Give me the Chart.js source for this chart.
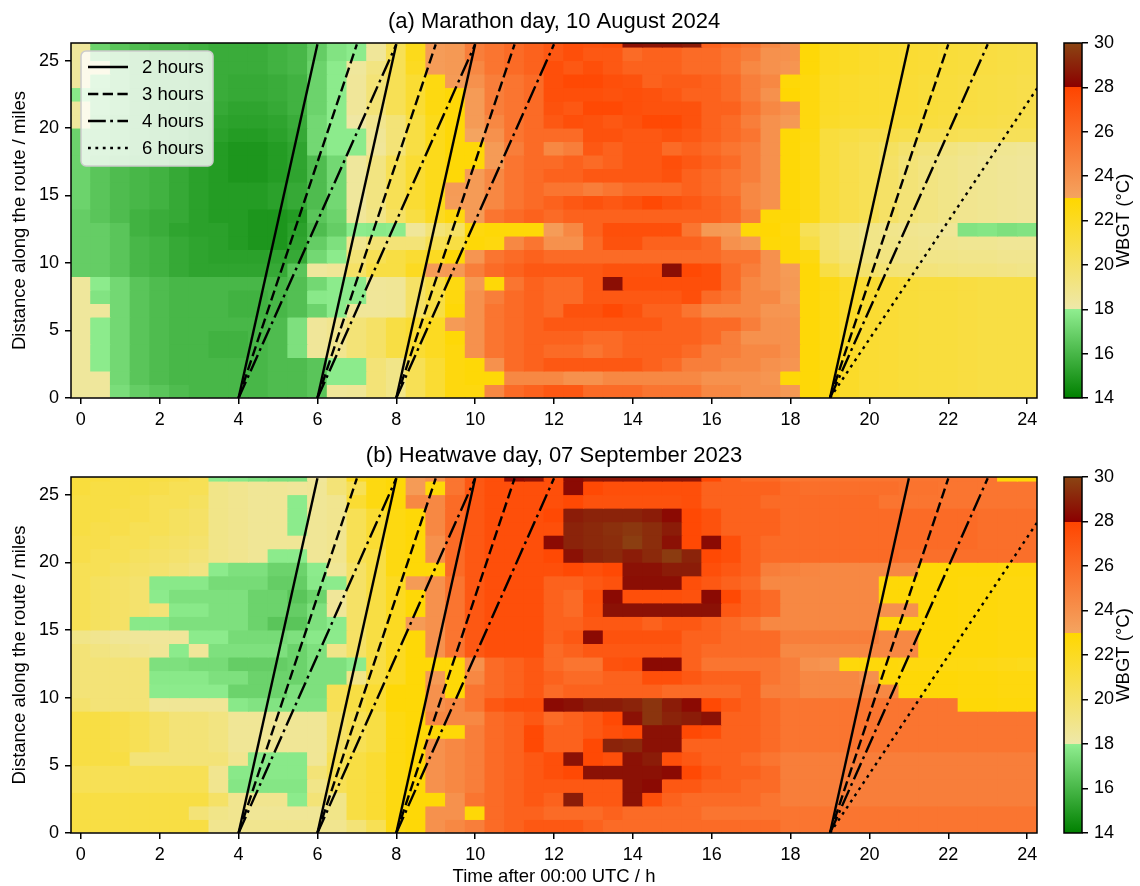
<!DOCTYPE html>
<html>
<head>
<meta charset="utf-8">
<script src="https://cdn.jsdelivr.net/npm/chart.js@4.4.1/dist/chart.umd.min.js"></script>
<style>
  html, body { margin: 0; padding: 0; background: #fff; }
  #fig { position: relative; width: 1140px; height: 886px; overflow: hidden; }
  #fig canvas { position: absolute; }
</style>
</head>
<body>
<div id="fig">
  <canvas id="heatA" width="1140" height="443" style="left:0;top:0"></canvas>
  <canvas id="barA" width="100" height="443" style="left:1040px;top:0"></canvas>
  <canvas id="heatB" width="1140" height="452" style="left:0;top:434px"></canvas>
  <canvas id="barB" width="100" height="452" style="left:1040px;top:434px"></canvas>
</div>
<script>
// WBGT along the route, two days: cells are 0.5 h x 1 mile
(function () {
  "use strict";

  // time of each column centre (h after 00:00 UTC)
  var timeHours = [0, 0.5, 1, 1.5, 2, 2.5, 3, 3.5, 4, 4.5, 5, 5.5, 6, 6.5, 7, 7.5, 8, 8.5, 9, 9.5,
    10, 10.5, 11, 11.5, 12, 12.5, 13, 13.5, 14, 14.5, 15, 15.5, 16, 16.5, 17, 17.5, 18, 18.5, 19, 19.5,
    20, 20.5, 21, 21.5, 22, 22.5, 23, 23.5, 24];
  // row edges along the route (miles)
  var distEdges = [0, 1, 2, 3, 4, 5, 6, 7, 8, 9, 10, 11, 12, 13, 14, 15, 16, 17, 18, 19, 20,
    21, 22, 23, 24, 25, 26, 26.3];

  // start times of the runners and finishing times (h)
  var startTimes = [4, 6, 8, 19];
  var paceSets = [[2, 3, 4], [2, 3, 4], [2, 3, 4], [2, 3, 4, 6]];
  var raceMiles = 26.2;
  var paceHours = [2, 3, 4, 6];
  var paceLabels = ["2 hours", "3 hours", "4 hours", "6 hours"];

  // colour scale
  var cbarMin = 14, cbarMax = 30;
  var cmapValues = [14, 18, 18, 23, 23, 28, 28, 30];
  var cmapColors = [[0, 128, 0], [144, 238, 144], [238, 232, 170], [255, 215, 0],
    [244, 164, 96], [255, 69, 0], [139, 0, 0], [139, 69, 19]];

  // (a) marathon day, 10 August 2024 - rows from 0 mile upward, columns 0..24 h
  var marathonWbgt = [
    [18.4,18.4,17.4,16.8,16.5,16.2,16.0,16.0,16.0,16.0,16.2,16.2, 16.5,18.5,18.6,19.5,19.0,20.5,21.5,22.6,22.6,24.5,26.0,26.5, 27.0,27.0,26.0,26.0,26.0,25.5,25.5,25.5,24.5,24.5,24.0,24.0,23.6, 22.8,22.4,21.8,21.5,21.4,21.3,21.2,21.2,21.1,21.0,21.0,21.0],
    [18.4,18.4,17.2,16.5,16.2,16.0,16.0,16.0,16.0,16.0,16.2,16.2, 16.5,17.9,17.9,19.5,19.0,20.5,21.5,22.6,22.8,22.8,24.5,24.5, 24.5,24.0,24.0,24.5,24.5,24.5,24.5,24.5,24.0,24.0,24.0,23.8,22.8, 22.8,22.4,21.8,21.5,21.4,21.3,21.2,21.2,21.1,21.0,21.0,21.0],
    [18.4,17.9,17.2,16.5,16.2,16.0,16.0,16.0,16.0,16.0,16.2,16.2, 16.5,17.9,17.9,19.5,19.0,20.5,21.5,22.6,22.8,24.0,26.0,26.5, 27.0,27.0,27.0,27.0,27.0,26.5,26.0,25.0,25.0,24.5,24.5,24.0,23.8, 22.8,22.4,21.8,21.5,21.4,21.3,21.2,21.2,21.1,21.0,21.0,21.0],
    [18.4,17.9,17.2,16.5,16.2,16.0,16.0,15.8,15.8,16.0,16.2,17.5, 18.5,18.8,19.5,20.0,21.0,21.5,22.0,22.6,24.0,25.5,26.0,26.5, 26.0,26.0,25.5,26.0,26.5,26.5,26.5,26.0,25.0,25.0,24.5,24.5,24.0, 22.8,22.4,21.8,21.5,21.4,21.3,21.2,21.2,21.1,21.0,21.0,21.0],
    [18.4,17.9,17.2,16.5,16.2,16.0,16.0,15.8,15.8,16.0,16.2,17.5, 18.5,18.8,19.5,20.0,21.0,21.5,22.0,22.8,24.0,25.5,26.0,26.5, 26.5,26.5,26.0,26.0,26.5,26.5,26.5,26.5,26.0,25.0,24.0,24.0,24.0, 22.8,22.4,21.8,21.5,21.4,21.3,21.2,21.2,21.1,21.0,21.0,21.0],
    [18.4,17.9,17.2,16.5,16.2,16.0,16.0,16.0,16.0,16.0,16.2,17.5, 18.5,18.8,19.5,20.0,21.0,21.5,22.0,23.5,24.0,25.5,26.0,26.5, 27.0,27.0,27.0,27.0,27.0,27.0,26.5,26.5,26.0,26.0,25.0,24.0,24.0, 22.8,22.4,21.8,21.5,21.4,21.3,21.2,21.2,21.1,21.0,21.0,21.0],
    [18.4,18.4,17.2,16.5,16.2,16.0,16.0,16.0,15.8,15.8,16.0,16.3, 17.0,17.9,18.5,18.5,18.6,20.0,21.0,22.8,24.0,25.5,26.0,26.5, 26.0,27.3,27.3,27.8,27.3,26.5,26.5,25.5,24.5,24.5,24.5,23.8,23.8, 22.8,22.4,21.8,21.5,21.4,21.3,21.2,21.2,21.1,21.0,21.0,21.0],
    [18.4,17.6,17.2,16.5,16.2,16.0,16.0,16.0,15.8,15.8,16.0,16.3, 17.8,17.9,17.9,18.5,18.6,20.0,21.0,22.6,24.0,25.0,26.0,26.5, 26.0,26.0,27.0,27.0,27.0,27.0,27.0,27.5,26.0,25.5,24.5,24.5,23.5, 22.8,22.4,21.8,21.5,21.4,21.3,21.2,21.2,21.1,21.0,21.0,21.0],
    [18.4,17.9,17.2,16.5,16.2,16.0,16.0,16.0,16.0,16.0,16.0,16.3, 17.2,17.9,17.9,18.5,18.6,20.0,21.0,22.5,23.6,22.8,25.5,26.5, 26.0,26.0,27.0,28.4,27.5,27.5,27.5,27.5,27.5,26.0,24.5,24.0,23.6, 22.8,22.4,21.8,21.5,21.4,21.3,21.2,21.2,21.1,21.0,21.0,21.0],
    [16.8,16.8,16.5,16.0,15.8,15.5,15.3,15.3,15.3,15.3,15.5,16.5, 18.4,18.6,20.0,21.0,21.0,22.0,23.5,23.6,25.0,26.0,26.5,27.0, 27.0,27.0,27.0,27.3,27.3,27.3,28.4,27.8,27.5,26.0,25.0,24.0,23.5, 22.8,21.0,20.0,19.8,19.6,19.5,19.4,19.3,19.2,19.2,19.1,19.0],
    [16.8,16.8,16.5,16.0,15.8,15.5,15.3,15.2,15.2,15.2,15.3,15.5, 17.2,17.9,19.5,20.5,21.0,21.5,22.0,22.8,23.8,25.5,26.0,26.5, 26.0,26.0,26.0,26.0,26.0,26.0,26.0,26.0,26.0,25.5,25.5,24.0,22.8, 22.5,20.0,19.5,19.3,19.2,19.1,19.0,19.0,18.9,18.9,18.8,18.8],
    [16.8,16.8,16.5,16.0,15.8,15.5,15.3,15.2,15.0,14.8,14.8,15.3, 16.8,17.5,18.8,19.5,19.5,19.5,20.5,21.0,22.8,22.6,24.5,25.5, 24.0,24.0,26.0,27.3,27.3,26.5,26.5,26.5,26.0,24.0,23.6,22.8,22.7, 21.0,19.8,19.3,19.0,19.0,18.9,18.8,18.8,18.7,18.7,18.6,18.6],
    [16.8,16.8,16.5,15.8,15.6,15.3,15.2,15.2,15.0,14.8,14.8,15.2, 16.2,16.8,17.9,17.8,17.9,18.5,19.5,20.0,22.6,22.8,22.8,22.8, 23.4,24.5,26.5,27.5,27.5,27.5,27.5,25.5,23.6,23.5,22.8,22.9,22.6, 20.5,19.8,19.3,19.0,18.9,18.8,18.7,18.6,17.6,17.7,17.5,17.6],
    [16.8,16.5,16.2,15.8,15.6,15.5,15.2,15.0,15.0,14.8,14.8,15.0, 16.5,17.0,18.5,19.0,20.0,21.0,22.0,22.6,23.5,25.5,26.0,26.5, 26.0,26.5,26.5,26.5,26.5,26.5,26.5,26.5,26.5,26.0,25.0,22.8,22.8, 22.4,21.2,20.8,20.5,20.0,19.5,19.2,19.0,18.8,18.7,18.6,18.5],
    [17.0,16.5,16.2,16.0,15.8,15.5,15.2,15.0,15.0,15.0,15.2,15.5, 16.2,17.2,18.4,19.2,20.5,21.5,22.2,23.4,23.5,24.5,25.5,26.0, 26.5,27.0,27.3,27.0,27.3,27.8,27.3,27.0,26.5,26.0,24.5,24.0,22.8, 22.4,21.2,20.8,20.5,20.0,19.5,19.2,19.0,18.8,18.7,18.6,18.5],
    [17.0,16.5,16.2,16.0,15.8,15.5,15.2,15.0,15.0,15.0,15.2,15.5, 16.2,17.2,18.4,19.2,20.5,21.5,22.2,23.5,23.5,24.5,25.5,26.0, 25.5,25.5,25.0,25.5,26.0,26.0,26.0,26.5,26.0,25.5,24.5,24.0,22.8, 22.4,21.2,20.8,20.5,20.0,19.5,19.2,19.0,18.8,18.7,18.6,18.5],
    [17.0,16.5,16.2,16.0,15.8,15.5,15.2,15.0,14.8,14.8,15.0,15.3, 16.2,17.2,18.4,19.2,20.5,21.5,22.2,22.8,23.5,24.5,25.5,26.0, 26.5,26.5,27.0,27.0,27.0,27.0,27.3,26.5,26.0,25.5,25.0,24.0,22.8, 22.4,21.2,20.8,20.5,20.0,19.5,19.2,19.0,18.8,18.7,18.6,18.5],
    [17.0,16.5,16.2,16.0,15.8,15.5,15.2,15.0,14.8,14.8,15.0,15.3, 16.2,17.2,18.4,19.2,20.5,21.5,22.2,22.8,22.8,23.5,25.5,26.0, 26.0,26.5,26.0,26.5,27.0,27.0,27.5,27.0,26.5,26.0,25.0,24.0,22.8, 22.4,21.2,20.8,20.5,20.0,19.5,19.2,19.0,18.8,18.7,18.6,18.5],
    [17.0,16.8,16.5,16.2,16.0,15.6,15.3,15.0,14.8,14.8,15.0,15.3, 17.2,17.9,17.9,18.5,19.5,21.0,22.2,22.8,22.8,23.5,25.0,26.0, 24.5,25.0,27.0,26.5,27.0,27.0,26.0,26.5,26.0,25.5,25.0,24.0,22.8, 22.4,21.2,20.8,20.5,20.2,19.8,19.5,19.2,19.0,18.8,18.7,18.6],
    [17.0,16.8,16.5,16.2,16.0,15.8,15.5,15.2,15.0,15.0,15.2,15.5, 17.2,17.9,17.9,18.6,19.5,21.0,22.2,22.8,23.0,24.0,25.5,26.0, 26.0,26.0,27.3,27.3,27.0,27.0,27.3,27.0,26.5,26.0,25.5,24.0,22.8, 22.5,21.2,21.0,20.8,20.8,20.7,20.6,20.6,20.5,20.5,20.4,20.4],
    [18.4,17.0,16.5,16.2,16.0,15.8,15.6,15.3,15.2,15.2,15.3,15.6, 17.2,17.9,18.2,18.8,19.5,21.0,22.2,22.8,23.5,24.5,25.5,26.0, 27.0,27.5,27.3,27.0,27.3,27.8,27.8,27.3,26.5,26.0,25.0,24.0,23.6, 22.6,21.8,21.6,21.5,21.4,21.3,21.2,21.1,21.0,20.9,20.8,20.7],
    [18.4,17.2,16.8,16.2,16.0,15.8,15.6,15.5,15.3,15.3,15.5,15.8, 17.0,17.9,18.5,19.5,20.5,21.5,22.5,22.8,23.5,25.0,25.5,26.0, 27.3,27.0,27.8,27.8,27.5,27.3,27.3,27.3,26.5,26.5,25.5,24.5,24.0, 22.6,21.9,21.7,21.6,21.5,21.4,21.3,21.2,21.1,21.0,20.9,20.8],
    [17.8,17.2,16.8,16.2,16.0,16.0,15.8,15.6,15.5,15.5,15.6,15.8, 17.0,17.9,18.5,19.5,20.5,21.5,22.5,22.8,23.5,25.0,25.5,26.0, 27.5,27.5,27.5,27.3,27.5,27.3,27.0,26.5,26.5,26.0,25.0,24.0,22.9, 22.6,21.9,21.7,21.6,21.5,21.4,21.3,21.2,21.1,21.0,20.9,20.8],
    [18.4,17.4,16.8,16.2,16.0,16.0,15.8,15.6,15.5,15.5,15.6,15.8, 17.0,17.9,18.5,19.5,20.5,21.5,22.5,23.5,24.0,25.0,25.5,26.0, 27.5,27.8,27.8,27.5,27.3,26.5,26.8,26.8,26.5,26.0,25.0,24.5,22.8, 22.6,21.9,21.7,21.6,21.5,21.4,21.3,21.2,21.1,21.0,20.9,20.8],
    [18.4,18.4,16.8,16.2,16.0,16.0,15.8,15.6,15.6,15.6,15.8,16.0, 17.0,17.9,18.4,19.2,20.5,22.0,23.4,23.6,24.5,25.5,26.0,26.5, 27.5,27.0,27.5,27.0,26.5,26.5,26.5,26.0,26.0,25.5,24.5,24.0,23.8, 22.8,22.1,21.9,21.7,21.6,21.5,21.4,21.3,21.2,21.1,21.0,20.9],
    [18.4,17.0,16.5,16.2,16.0,16.0,15.8,15.6,15.6,15.6,15.8,16.0, 16.8,17.6,17.9,18.5,20.5,22.2,23.4,23.6,25.0,25.5,26.0,26.5, 27.0,27.5,27.0,27.0,26.0,26.5,26.5,26.0,26.0,25.5,25.0,24.0,24.0, 22.8,22.1,21.9,21.7,21.6,21.5,21.4,21.3,21.2,21.1,21.0,20.9],
    [18.4,17.0,16.5,16.2,16.0,16.0,15.8,15.6,15.6,15.6,15.8,16.0, 16.8,17.6,17.9,18.5,20.5,22.2,23.4,23.6,25.0,25.5,26.0,26.5, 27.0,27.5,27.3,27.5,28.5,28.6,28.6,28.8,26.5,26.0,25.5,24.5,24.0, 22.8,22.1,21.9,21.7,21.6,21.5,21.4,21.3,21.2,21.1,21.0,20.9]
  ];

  // (b) heatwave day, 07 September 2023 - rows from 0 mile upward, columns 0..24 h
  var heatwaveWbgt = [
    [21.0,21.0,21.0,21.0,21.0,21.0,21.0,18.8,18.8,18.8,18.8,18.8,18.8, 18.8,19.5,20.5,22.5,22.8,24.0,24.5,25.0,26.0,26.5,27.0, 27.0,27.0,26.5,26.0,26.0,26.0,26.0,26.0,26.0,26.0,26.0,26.0,25.5, 25.5,25.5,25.5,25.5,25.5,25.5,25.5,25.5,25.5,25.5,25.5,25.5],
    [21.0,21.0,21.0,21.0,21.0,21.0,19.5,19.0,18.8,18.6,18.6,18.6,18.6, 19.0,21.0,21.5,22.5,22.8,24.0,24.0,22.8,26.0,26.5,26.5, 26.0,26.0,26.0,26.5,26.0,26.0,26.0,26.0,25.5,25.5,25.5,25.5,25.5, 25.5,25.5,25.5,25.5,25.5,25.5,25.5,25.5,25.5,25.5,25.5,25.5],
    [21.0,21.0,21.0,21.0,21.0,21.0,21.0,20.0,18.8,18.8,18.8,17.9,19.5, 19.0,21.0,21.5,22.5,22.8,22.8,24.0,25.5,26.0,26.5,27.0, 26.5,28.8,27.0,27.0,28.5,27.5,26.5,26.0,26.0,26.0,26.0,25.5,25.0, 25.0,25.0,25.0,25.0,25.0,25.0,25.0,25.0,25.0,25.0,25.0,25.0],
    [20.5,20.5,20.5,20.5,20.5,20.5,20.5,18.8,17.7,17.7,17.7,17.7,19.0, 20.5,21.0,21.5,22.5,22.8,24.0,24.5,25.0,26.0,26.5,27.0, 27.0,27.0,27.0,27.0,28.5,28.3,27.0,27.0,26.5,26.5,26.0,26.0,25.0, 25.0,25.0,25.0,25.0,25.0,25.0,25.0,25.0,25.0,25.0,25.0,25.0],
    [20.5,20.5,20.5,20.5,20.5,20.5,20.5,18.8,17.8,17.8,17.8,17.8,19.5, 20.5,21.0,21.5,22.5,22.8,24.0,24.5,25.0,26.0,26.5,27.0, 27.5,27.8,28.5,28.5,28.5,28.5,28.3,27.8,27.0,26.5,26.5,26.0,25.0, 25.0,25.0,25.0,25.0,25.0,25.0,25.0,25.0,25.0,25.0,25.0,25.0],
    [21.0,21.0,21.0,19.5,19.5,19.5,19.5,19.5,18.8,17.8,17.8,17.8,18.6, 20.5,21.0,21.5,22.5,22.8,24.0,24.5,25.0,26.0,26.5,27.0, 27.5,28.5,27.8,27.5,28.5,28.8,27.5,27.0,26.5,26.5,26.0,25.5,25.0, 25.0,25.0,25.0,25.0,25.0,25.0,25.0,25.0,25.0,25.0,25.0,25.0],
    [21.0,21.0,20.8,20.5,20.0,19.5,19.5,19.2,18.6,18.6,18.6,18.6,18.6, 20.0,20.5,21.0,22.5,22.8,24.0,24.5,25.0,26.0,26.5,27.8, 26.5,26.5,27.8,29.0,29.2,28.5,28.5,26.5,26.5,26.5,26.5,26.0,25.5, 25.5,25.5,25.5,25.5,25.5,25.5,25.5,25.5,25.5,25.5,25.5,25.5],
    [21.0,21.0,20.8,20.5,20.0,19.5,19.5,19.2,18.6,18.6,18.6,18.6,18.6, 20.0,20.5,21.0,22.5,22.8,22.8,22.8,25.0,26.0,26.5,27.8, 26.5,26.5,27.0,27.5,27.8,28.5,28.5,27.8,27.5,26.5,26.5,26.0,25.5, 25.5,25.5,25.5,25.5,25.5,25.5,25.5,25.5,25.5,25.5,25.5,25.5],
    [21.0,21.0,20.8,20.5,20.0,19.5,19.5,19.2,18.6,18.6,18.6,18.6,18.6, 20.0,20.5,21.0,22.5,22.8,24.5,24.5,24.5,26.0,26.5,27.0, 26.0,26.5,27.0,27.8,28.5,29.5,29.0,28.8,28.5,26.5,26.5,26.0,25.5, 25.5,25.5,25.5,25.5,25.5,25.5,25.5,25.5,25.5,25.5,25.5,25.5],
    [19.8,19.5,19.5,19.5,18.6,18.6,18.6,18.6,17.8,17.6,17.6,17.6,17.6, 20.5,21.0,21.5,22.8,22.8,24.0,24.5,25.5,27.0,27.5,27.5, 28.3,28.5,28.8,28.8,29.0,29.5,28.8,28.3,27.8,27.0,26.5,26.0,25.5, 25.5,25.5,25.5,25.5,25.5,25.5,25.5,25.5,22.8,22.8,22.7,22.7],
    [19.5,19.5,19.5,19.5,17.9,17.9,17.9,17.9,17.0,17.0,17.0,17.5,17.5, 20.5,21.0,21.5,22.8,22.8,24.0,22.8,25.5,26.0,26.5,27.0, 26.0,26.5,26.5,26.5,26.5,26.5,26.0,26.0,26.0,26.0,26.5,25.0,25.0, 24.5,24.5,24.5,24.5,24.5,22.8,22.8,22.8,22.7,22.7,22.6,22.6],
    [19.5,19.5,19.5,19.5,17.8,17.8,17.8,17.5,17.5,17.0,17.0,17.0,17.5, 17.5,19.0,21.0,22.0,22.8,23.5,22.8,24.5,26.0,26.5,27.0, 26.5,26.0,26.0,26.5,26.5,27.5,27.5,27.0,26.5,26.5,26.5,25.5,25.0, 24.5,24.5,24.5,24.0,22.8,22.8,22.8,22.8,22.7,22.7,22.6,22.6],
    [19.5,19.5,19.5,19.5,17.5,17.5,17.3,17.3,16.8,16.8,16.8,17.0,17.5, 17.5,17.9,21.0,22.0,22.8,22.8,22.8,24.0,26.0,26.5,27.0, 26.0,25.5,25.5,27.3,27.5,28.3,28.3,26.5,25.5,25.5,25.5,25.5,25.0, 24.0,23.8,22.7,22.7,22.7,22.6,22.6,22.5,22.5,22.4,22.3,22.2],
    [19.5,19.2,19.0,18.8,18.6,17.9,18.5,17.5,17.5,17.5,17.5,17.0,17.5, 19.0,20.0,21.0,22.0,22.8,24.0,25.5,27.0,27.5,27.5,27.5, 26.0,26.5,27.0,27.0,27.0,27.0,27.0,26.5,26.0,26.0,26.0,26.0,24.5, 24.5,24.5,24.5,24.5,24.5,24.5,22.8,22.8,22.7,22.7,22.6,22.6],
    [19.0,18.8,18.6,18.5,18.5,18.5,17.9,17.9,17.3,17.3,17.3,17.5,17.8, 17.9,20.0,21.0,22.0,22.8,24.0,25.5,27.0,27.5,27.5,27.5, 26.5,27.0,28.3,27.3,27.3,27.3,27.3,26.5,26.5,26.0,26.0,26.0,25.0, 25.0,25.0,25.0,25.0,24.5,24.5,22.8,22.8,22.7,22.7,22.6,22.6],
    [20.5,20.2,20.0,17.8,17.8,17.5,17.5,17.5,17.5,17.0,16.5,16.5,17.5, 17.9,20.0,21.0,22.0,23.5,24.0,25.5,27.0,27.5,27.5,27.5, 26.5,26.5,27.0,27.0,27.0,26.5,27.0,27.0,26.5,26.0,25.5,24.5,24.5, 24.5,24.5,24.5,24.5,22.8,22.8,22.8,22.8,22.7,22.7,22.6,22.6],
    [20.5,20.2,20.0,19.8,19.5,17.8,17.8,17.5,17.5,17.0,17.0,16.8,17.5, 18.5,20.0,21.0,22.0,22.8,24.0,25.5,27.0,27.5,27.5,27.5, 26.5,26.0,27.3,28.5,28.5,28.5,28.5,28.5,28.5,27.0,26.5,26.0,24.5, 24.5,24.5,24.5,24.5,24.0,24.0,22.8,22.8,22.7,22.7,22.6,22.6],
    [20.5,20.2,20.0,19.8,17.9,17.5,17.5,17.5,17.5,17.0,17.0,16.5,17.0, 18.5,20.0,21.0,22.0,22.8,24.0,25.5,27.0,27.5,27.5,27.5, 26.5,26.0,27.5,28.3,27.5,27.5,27.5,27.3,28.3,27.8,26.5,26.0,24.5, 24.5,24.5,24.5,24.5,22.8,22.8,22.8,22.8,22.7,22.7,22.6,22.6],
    [20.5,20.2,20.0,19.8,17.8,17.8,17.8,17.3,17.3,17.3,16.8,16.8,17.8, 17.9,20.0,21.0,22.0,23.5,24.0,25.5,27.0,27.5,27.5,27.5, 26.5,26.5,27.0,27.3,28.4,28.4,28.4,27.5,27.0,26.5,26.0,24.5,24.5, 24.5,24.5,24.5,24.5,22.8,22.8,22.8,22.8,22.7,22.7,22.6,22.6],
    [20.5,20.5,20.2,20.0,19.8,19.5,19.2,17.9,17.5,17.5,17.0,17.0,17.9, 18.6,20.0,21.0,22.5,22.8,22.8,26.0,27.0,27.5,27.5,27.5, 27.5,27.8,27.5,27.8,28.5,28.5,28.8,28.8,27.5,27.0,26.5,25.0,24.8, 24.6,24.5,24.5,24.5,24.5,24.5,22.8,22.8,22.8,22.8,22.7,22.7],
    [20.8,20.5,20.5,20.2,20.0,19.8,19.5,19.0,18.8,18.6,17.9,17.9,18.6, 18.8,20.5,21.0,22.5,22.8,24.0,26.0,27.0,27.5,27.5,27.5, 27.8,28.5,29.0,29.2,28.8,29.2,29.7,29.0,27.8,27.5,26.5,26.0,26.0, 26.0,26.0,26.0,26.0,26.0,25.8,25.8,25.8,25.8,25.8,25.8,25.8],
    [20.8,20.8,20.5,20.5,20.2,20.0,19.8,19.0,18.8,18.6,18.6,18.6,18.6, 18.8,20.5,21.5,22.5,22.8,24.0,26.0,27.0,27.5,27.5,27.5, 28.3,29.0,29.2,29.3,29.8,29.3,28.5,27.8,28.3,27.5,26.5,26.0,26.0, 26.0,26.0,26.0,26.0,26.0,26.0,26.0,26.0,26.0,25.8,25.8,25.8],
    [21.0,20.8,20.8,20.5,20.5,20.2,20.0,19.0,18.8,18.6,18.6,17.9,18.6, 18.8,20.5,21.5,22.5,22.8,24.5,26.0,27.0,27.5,27.5,27.5, 27.5,29.0,29.2,29.4,29.6,29.3,28.8,27.8,27.3,26.5,26.5,26.5,26.0, 26.0,26.0,26.0,26.0,26.0,26.0,26.0,26.0,26.0,25.8,25.8,25.8],
    [21.0,21.0,20.8,20.8,20.5,20.2,20.0,19.0,18.8,18.6,18.6,17.9,18.6, 18.8,20.5,21.5,22.5,22.8,24.5,26.0,27.0,27.5,27.5,27.5, 27.8,28.8,29.0,29.0,29.0,28.8,28.3,27.8,27.3,26.5,26.5,26.5,26.0, 26.0,26.0,26.0,26.0,26.0,26.0,26.0,26.0,26.0,25.8,25.8,25.8],
    [21.0,21.0,21.0,20.8,20.5,20.5,20.2,19.0,18.8,18.6,18.6,17.9,18.6, 18.8,21.5,22.5,22.8,24.5,24.5,26.0,27.0,27.5,27.5,27.5, 27.5,27.8,27.3,27.3,27.3,27.3,27.3,27.5,26.5,26.5,26.5,26.0,26.0, 26.0,26.0,26.0,26.0,25.5,25.5,25.5,25.5,25.5,25.5,25.5,25.5],
    [21.2,21.0,21.0,21.0,20.8,20.5,20.5,19.0,18.8,18.6,18.6,18.5,18.6, 19.5,20.5,22.5,22.8,23.5,22.8,25.5,27.0,27.5,27.5,27.5, 27.5,28.3,27.8,27.5,27.5,27.5,27.5,27.5,26.5,26.5,26.5,26.5,26.0, 25.8,25.8,25.8,25.8,25.8,25.6,25.6,25.5,25.5,25.5,25.5,25.5],
    [21.2,21.2,21.0,21.0,21.0,20.8,20.5,17.9,17.8,17.6,17.5,17.5,18.5, 19.5,22.0,22.5,22.8,23.5,24.0,25.5,27.0,27.5,28.3,28.5, 27.5,28.3,28.6,28.6,28.6,28.6,28.6,28.6,27.8,26.5,26.0,26.0,25.5, 25.5,25.5,25.5,25.5,25.5,25.5,25.5,25.5,25.5,25.5,22.7,22.7]
  ];

  var dashFor = { 2: [], 3: [10.3, 4.4], 4: [17.8, 4.4, 2.8, 4.4], 6: [2.8, 4.6] };

  Chart.defaults.font.family = "'Liberation Sans', Arial, sans-serif";
  Chart.defaults.color = "#000";

  function colorFor(v) {
    var x = Math.max(cbarMin, Math.min(cbarMax, v));
    var k = 0;
    // pick segment (pairs of stops)
    for (var s = 0; s < cmapValues.length; s += 2) {
      if (x >= cmapValues[s]) k = s;
    }
    var t = (x - cmapValues[k]) / (cmapValues[k + 1] - cmapValues[k]);
    var a = cmapColors[k], b = cmapColors[k + 1];
    return "rgb(" + Math.round(a[0] + (b[0] - a[0]) * t) + "," +
      Math.round(a[1] + (b[1] - a[1]) * t) + "," +
      Math.round(a[2] + (b[2] - a[2]) * t) + ")";
  }

  function cellDataset(rows) {
    var pts = [], cols = [];
    rows.forEach(function (row, i) {
      if (row.length !== timeHours.length) console.warn("row " + i + " has " + row.length);
      row.forEach(function (v, j) {
        pts.push({ x: timeHours[j], y: [distEdges[i], distEdges[i + 1]] });
        cols.push(colorFor(v));
      });
    });
    return {
      type: "bar",
      data: pts,
      backgroundColor: cols,
      borderWidth: 0,
      barPercentage: 1,
      categoryPercentage: 1,
      grouped: false,
      inflateAmount: 0.5,
      order: 2
    };
  }

  function paceDatasets() {
    var sets = [];
    startTimes.forEach(function (t0, s) {
      paceSets[s].forEach(function (p) {
        sets.push({
          type: "line",
          data: [{ x: t0, y: 0 }, { x: t0 + p, y: raceMiles }],
          borderColor: "#000",
          borderWidth: 2.4,
          borderDash: dashFor[p],
          borderCapStyle: "butt",
          pointRadius: 0,
          fill: false,
          clip: 0,
          order: 0
        });
      });
    });
    return sets;
  }

  var framePlugin = {
    id: "frame",
    afterDatasetsDraw: function (chart) {
      var a = chart.chartArea, ctx = chart.ctx;
      ctx.save();
      ctx.strokeStyle = "#000";
      ctx.lineWidth = 1.5;
      ctx.strokeRect(a.left, a.top, a.right - a.left, a.bottom - a.top);
      ctx.restore();
    }
  };

  var paceLegend = {
    id: "paceLegend",
    afterDraw: function (chart, args, opts) {
      if (!opts.show) return;
      var ctx = chart.ctx, a = chart.chartArea;
      var x = a.left + 10, y = a.top + 8, w = 132, h = 115;
      ctx.save();
      ctx.beginPath();
      ctx.roundRect(x, y, w, h, 5);
      ctx.fillStyle = "rgba(255,255,255,0.8)";
      ctx.fill();
      ctx.strokeStyle = "#cccccc";
      ctx.lineWidth = 1.5;
      ctx.stroke();
      ctx.font = "18.5px 'Liberation Sans', Arial, sans-serif";
      ctx.textBaseline = "middle";
      ctx.fillStyle = "#000";
      paceLabels.forEach(function (lab, k) {
        var yy = y + 16 + k * 27;
        ctx.beginPath();
        ctx.setLineDash(dashFor[paceHours[k]]);
        ctx.lineWidth = 2.4;
        ctx.strokeStyle = "#000";
        ctx.moveTo(x + 7, yy);
        ctx.lineTo(x + 47, yy);
        ctx.stroke();
        ctx.setLineDash([]);
        ctx.fillText(lab, x + 61, yy + 1);
      });
      ctx.restore();
    }
  };

  function axisTicks() {
    return { drawOnChartArea: false, drawTicks: true, tickLength: 6, color: "#000", lineWidth: 1.5 };
  }

  function makePanel(id, rows, title, xTitle, axisH) {
    new Chart(document.getElementById(id), {
      type: "bar",
      data: { datasets: [cellDataset(rows)].concat(paceDatasets()) },
      options: {
        responsive: false,
        animation: false,
        devicePixelRatio: 1,
        layout: { padding: { left: 0, right: 103, top: 0, bottom: 0 } },
        plugins: {
          legend: { display: false },
          tooltip: { enabled: false },
          title: {
            display: true, text: title, fullSize: false,
            font: { size: 22, weight: "normal", lineHeight: 1.2 },
            padding: { top: 9, bottom: 7.6 }
          },
          paceLegend: { show: !xTitle }
        },
        scales: {
          x: {
            type: "linear", min: -0.25, max: 24.25, offset: false,
            grid: Object.assign(axisTicks(), { offset: false }),
            border: { display: false },
            ticks: { stepSize: 2, includeBounds: false, autoSkip: false, maxRotation: 0, padding: 5, font: { size: 18 } },
            title: { display: !!xTitle, text: xTitle || "", font: { size: 18.5, lineHeight: 1.0 }, padding: { top: 0, bottom: 0 } },
            afterFit: function (s) { s.height = axisH; }
          },
          y: {
            type: "linear", min: 0, max: distEdges[distEdges.length - 1],
            grid: axisTicks(),
            border: { display: false },
            ticks: { stepSize: 5, includeBounds: false, padding: 6, font: { size: 18 } },
            title: { display: true, text: "Distance along the route / miles", font: { size: 18.5, lineHeight: 1.2 }, padding: { top: 9, bottom: 0 } },
            afterFit: function (s) { s.width = 71; }
          }
        }
      },
      plugins: [framePlugin, paceLegend]
    });
  }

  var cbarLabel = {
    id: "cbarLabel",
    afterDraw: function (chart) {
      var ctx = chart.ctx, a = chart.chartArea;
      ctx.save();
      ctx.translate(84, (a.top + a.bottom) / 2);
      ctx.rotate(-Math.PI / 2);
      ctx.font = "18.5px 'Liberation Sans', Arial, sans-serif";
      ctx.fillStyle = "#000";
      ctx.textAlign = "center";
      ctx.textBaseline = "middle";
      ctx.fillText("WBGT (°C)", 0, 0);
      ctx.restore();
    }
  };

  function makeColorbar(id, padTop, padBottom) {
    new Chart(document.getElementById(id), {
      type: "bar",
      data: {
        labels: [""],
        datasets: [{
          data: [[cbarMin, cbarMax]],
          backgroundColor: function (c) {
            var a = c.chart.chartArea;
            if (!a) return "#888";
            var g = c.chart.ctx.createLinearGradient(0, a.bottom, 0, a.top);
            cmapValues.forEach(function (v, k) {
              var c3 = cmapColors[k];
              g.addColorStop((v - cbarMin) / (cbarMax - cbarMin), "rgb(" + c3.join(",") + ")");
            });
            return g;
          },
          borderWidth: 0,
          barPercentage: 1,
          categoryPercentage: 1,
          inflateAmount: 0
        }]
      },
      options: {
        responsive: false,
        animation: false,
        devicePixelRatio: 1,
        layout: { padding: { left: 24, right: 0, top: padTop, bottom: padBottom } },
        plugins: { legend: { display: false }, tooltip: { enabled: false } },
        scales: {
          x: { display: false },
          y: {
            position: "right", min: cbarMin, max: cbarMax,
            grid: axisTicks(),
            border: { display: false },
            ticks: { stepSize: 2, padding: 6, font: { size: 18 } },
            afterFit: function (s) { s.width = 58; }
          }
        }
      },
      plugins: [framePlugin, cbarLabel]
    });
  }

  makePanel("heatA", marathonWbgt, "(a) Marathon day, 10 August 2024", null, 45);
  makePanel("heatB", heatwaveWbgt, "(b) Heatwave day, 07 September 2023", "Time after 00:00 UTC / h", 53);
  makeColorbar("barA", 43, 45);
  makeColorbar("barB", 43, 53);
})();
</script>
</body>
</html>
